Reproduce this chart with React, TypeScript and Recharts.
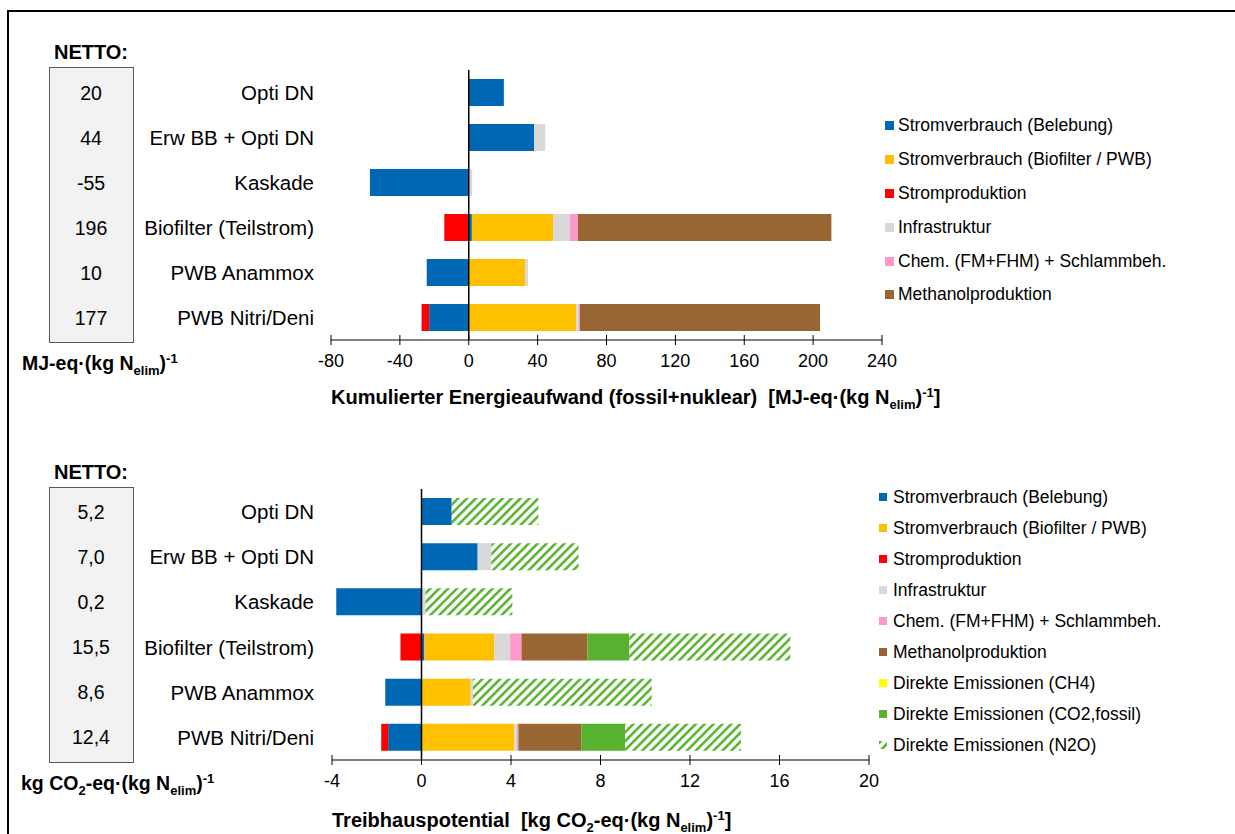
import React from "react";
import { BarChart, Bar, XAxis, YAxis, ReferenceLine, Legend } from "recharts";

const categories = [
  "Opti DN",
  "Erw BB + Opti DN",
  "Kaskade",
  "Biofilter (Teilstrom)",
  "PWB Anammox",
  "PWB Nitri/Deni",
];

// Kumulierter Energieaufwand, MJ-eq/(kg N elim)
const keaBelebung = [20.4, 38, -57.4, 1.8, -24.4, -23];
const keaBiofilterPwb = [0, 0, 0, 47.4, 32.8, 62.4];
const keaStromproduktion = [0, 0, 0, -14.2, 0, -4.4];
const keaInfrastruktur = [0, 6.4, 2, 9.6, 1.6, 1.6];
const keaChem = [0, 0, 0, 4.6, 0, 0.6];
const keaMethanol = [0, 0, 0, 147.2, 0, 139.4];
const keaNetto = ["20", "44", "-55", "196", "10", "177"];
const keaTicks = [-80, -40, 0, 40, 80, 120, 160, 200, 240];

// Treibhauspotential, kg CO2-eq/(kg N elim)
const thgBelebung = [1.35, 2.51, -3.81, 0.13, -1.62, -1.49];
const thgBiofilterPwb = [0, 0, 0, 3.12, 2.2, 4.15];
const thgStromproduktion = [0, 0, 0, -0.94, 0, -0.31];
const thgInfrastruktur = [0, 0.61, 0.18, 0.71, 0.1, 0.12];
const thgChem = [0, 0, 0, 0.51, 0, 0.06];
const thgMethanol = [0, 0, 0, 2.95, 0, 2.81];
const thgCh4 = [0, 0, 0, 0, 0, 0];
const thgCo2 = [0, 0, 0, 1.87, 0, 1.96];
const thgN2o = [3.87, 3.9, 3.88, 7.19, 7.99, 5.18];
const thgNetto = ["5,2", "7,0", "0,2", "15,5", "8,6", "12,4"];
const thgTicks = [-4, 0, 4, 8, 12, 16, 20];

const FONT = "'Liberation Sans', Arial, sans-serif";
const HATCH_GREEN = "#5BB531";

type Series = { key: string; name: string; color: string; values: number[] };

const keaSeries: Series[] = [
  { key: "belebung", name: "Stromverbrauch (Belebung)", color: "#0067B4", values: keaBelebung },
  { key: "biofilter", name: "Stromverbrauch (Biofilter / PWB)", color: "#FFC000", values: keaBiofilterPwb },
  { key: "strom", name: "Stromproduktion", color: "#FF0000", values: keaStromproduktion },
  { key: "infra", name: "Infrastruktur", color: "#D9D9D9", values: keaInfrastruktur },
  { key: "chem", name: "Chem. (FM+FHM) + Schlammbeh.", color: "#FF99CC", values: keaChem },
  { key: "methanol", name: "Methanolproduktion", color: "#996633", values: keaMethanol },
];

const thgSeries: Series[] = [
  { key: "belebung", name: "Stromverbrauch (Belebung)", color: "#0067B4", values: thgBelebung },
  { key: "biofilter", name: "Stromverbrauch (Biofilter / PWB)", color: "#FFC000", values: thgBiofilterPwb },
  { key: "strom", name: "Stromproduktion", color: "#FF0000", values: thgStromproduktion },
  { key: "infra", name: "Infrastruktur", color: "#D9D9D9", values: thgInfrastruktur },
  { key: "chem", name: "Chem. (FM+FHM) + Schlammbeh.", color: "#FF99CC", values: thgChem },
  { key: "methanol", name: "Methanolproduktion", color: "#996633", values: thgMethanol },
  { key: "ch4", name: "Direkte Emissionen (CH4)", color: "#FFFF00", values: thgCh4 },
  { key: "co2", name: "Direkte Emissionen (CO2,fossil)", color: "#58B22F", values: thgCo2 },
  { key: "n2o", name: "Direkte Emissionen (N2O)", color: "url(#hatchN2o)", values: thgN2o },
];

const buildRows = (series: Series[]) =>
  categories.map((name, i) => {
    const row: any = { name };
    series.forEach((s) => (row[s.key] = s.values[i]));
    return row;
  });

const keaData = buildRows(keaSeries);
const thgData = buildRows(thgSeries);

const makeCatTick = (netto: string[]) => (props: any) => {
  const { y, payload } = props;
  const idx = categories.indexOf(payload.value);
  return (
    <g>
      <text x={314} y={y} textAnchor="end" dominantBaseline="central" fontSize={20.5} fontFamily={FONT} fill="#000">
        {payload.value}
      </text>
      <text x={91} y={y} textAnchor="middle" dominantBaseline="central" fontSize={19.5} fontFamily={FONT} fill="#000">
        {netto[idx]}
      </text>
    </g>
  );
};

const CrossTick = (props: any) => {
  const { x, y, payload } = props;
  return (
    <g>
      <line x1={x} x2={x} y1={y - 5} y2={y + 5} stroke="#000" strokeWidth={1} />
      <text x={x} y={y + 21} textAnchor="middle" dominantBaseline="central" fontSize={18} fontFamily={FONT} fill="#000">
        {payload.value}
      </text>
    </g>
  );
};

// legend drawn in series order (Recharts sorts its payload by name)
const makeLegend = (series: Series[], rowHeight: number, square: number, gap: number) => () => (
  <div style={{ fontFamily: FONT, fontSize: 17.5, color: "#000" }}>
    {series.map((s) => (
      <div key={s.key} style={{ height: rowHeight, display: "flex", alignItems: "center", whiteSpace: "nowrap" }}>
        <svg width={square} height={square} style={{ marginRight: gap, flex: "none" }}>
          {s.key === "n2o" ? (
            <>
              <defs>
                <pattern id="hatchLegend" patternUnits="userSpaceOnUse" width={6.3} height={6.3} patternTransform="rotate(45)">
                  <rect width={6.3} height={6.3} fill="#fff" />
                  <rect width={2.6} height={6.3} fill={HATCH_GREEN} />
                </pattern>
              </defs>
              <rect width={square} height={square} fill="url(#hatchLegend)" />
            </>
          ) : (
            <rect width={square} height={square} fill={s.color} />
          )}
        </svg>
        <span>{s.name}</span>
      </div>
    ))}
  </div>
);

const sub = { fontSize: 13, position: "relative" as const, top: 5, lineHeight: 0 };
const sup = { fontSize: 13, position: "relative" as const, top: -7, lineHeight: 0 };

const abs = (left: number, top: number, extra: React.CSSProperties = {}): React.CSSProperties => ({
  position: "absolute",
  left,
  top,
  whiteSpace: "nowrap",
  ...extra,
});

export default function App() {
  return (
    <div style={{ position: "relative", width: 1235, height: 834, fontFamily: FONT, background: "#fff", overflow: "hidden" }}>
      <style>{"body{margin:0;overflow:hidden}"}</style>

      {/* frame */}
      <div style={abs(7, 10, { width: 2, height: 824, background: "#000" })} />
      <div style={abs(7, 10, { width: 1228, height: 2, background: "#000" })} />

      {/* NETTO boxes */}
      <div style={abs(49, 41, { width: 84, textAlign: "center", fontWeight: "bold", fontSize: 20, lineHeight: "22px" })}>NETTO:</div>
      <div style={abs(49, 67, { width: 83, height: 274, background: "#F2F2F2", border: "1px solid #595959" })} />
      <div style={abs(49, 461, { width: 84, textAlign: "center", fontWeight: "bold", fontSize: 20, lineHeight: "22px" })}>NETTO:</div>
      <div style={abs(49, 487, { width: 83, height: 274, background: "#F2F2F2", border: "1px solid #595959" })} />

      {/* units */}
      <div style={abs(22, 351, { fontWeight: "bold", fontSize: 19.5, lineHeight: "24px" })}>
        MJ-eq·(kg N<span style={sub}>elim</span>)<span style={sup}>-1</span>
      </div>
      <div style={abs(21, 771, { fontWeight: "bold", fontSize: 19.5, lineHeight: "24px" })}>
        kg CO<span style={sub}>2</span>-eq·(kg N<span style={sub}>elim</span>)<span style={sup}>-1</span>
      </div>

      {/* axis titles */}
      <div style={abs(331, 385, { fontWeight: "bold", fontSize: 20, lineHeight: "24px" })}>
        Kumulierter Energieaufwand (fossil+nuklear)&nbsp; [MJ-eq·(kg N<span style={sub}>elim</span>)<span style={sup}>-1</span>]
      </div>
      <div style={abs(332, 808, { fontWeight: "bold", fontSize: 20, lineHeight: "24px" })}>
        Treibhauspotential&nbsp; [kg CO<span style={sub}>2</span>-eq·(kg N<span style={sub}>elim</span>)<span style={sup}>-1</span>]
      </div>

      {/* top chart */}
      <div style={abs(0, 0)}>
        <BarChart
          width={1235}
          height={420}
          data={keaData}
          layout="vertical"
          stackOffset="sign"
          margin={{ top: 70, right: 353, bottom: 50, left: 0 }}
        >
          <XAxis
            type="number"
            domain={[-80, 240]}
            ticks={keaTicks}
            interval={0}
            tickSize={0}
            tickMargin={0}
            tickLine={false}
            axisLine={{ stroke: "#000" }}
            tick={<CrossTick />}
            height={30}
            allowDataOverflow
          />
          <YAxis
            type="category"
            dataKey="name"
            width={331}
            interval={0}
            axisLine={false}
            tickLine={false}
            tick={makeCatTick(keaNetto)}
          />
          {keaSeries.map((s) => (
            <Bar key={s.key} dataKey={s.key} name={s.name} stackId="a" fill={s.color} barSize={27} isAnimationActive={false} />
          ))}
          <ReferenceLine x={0} stroke="#000" strokeWidth={1.5} />
          <Legend
            layout="vertical"
            align="center"
            verticalAlign="middle"
            content={makeLegend(keaSeries, 33.8, 9, 4)}
            wrapperStyle={{ left: 885, top: 109, width: 340, height: "auto" }}
          />
        </BarChart>
      </div>

      {/* bottom chart */}
      <div style={abs(0, 420)}>
        <BarChart
          width={1235}
          height={414}
          data={thgData}
          layout="vertical"
          stackOffset="sign"
          margin={{ top: 69, right: 366, bottom: 44, left: 0 }}
        >
          <defs>
            <pattern id="hatchN2o" patternUnits="userSpaceOnUse" width={6.3} height={6.3} patternTransform="rotate(45)">
              <rect width={6.3} height={6.3} fill="#fff" />
              <rect width={2.6} height={6.3} fill={HATCH_GREEN} />
            </pattern>
          </defs>
          <XAxis
            type="number"
            domain={[-4, 20]}
            ticks={thgTicks}
            interval={0}
            tickSize={0}
            tickMargin={0}
            tickLine={false}
            axisLine={{ stroke: "#000" }}
            tick={<CrossTick />}
            height={30}
            allowDataOverflow
          />
          <YAxis
            type="category"
            dataKey="name"
            width={332}
            interval={0}
            axisLine={false}
            tickLine={false}
            tick={makeCatTick(thgNetto)}
          />
          {thgSeries.map((s) => (
            <Bar key={s.key} dataKey={s.key} name={s.name} stackId="a" fill={s.color} barSize={27} isAnimationActive={false} />
          ))}
          <ReferenceLine x={0} stroke="#000" strokeWidth={1.5} />
          <Legend
            layout="vertical"
            align="center"
            verticalAlign="middle"
            content={makeLegend(thgSeries, 31, 8, 6)}
            wrapperStyle={{ left: 879, top: 61.5, width: 350, height: "auto" }}
          />
        </BarChart>
      </div>
    </div>
  );
}
